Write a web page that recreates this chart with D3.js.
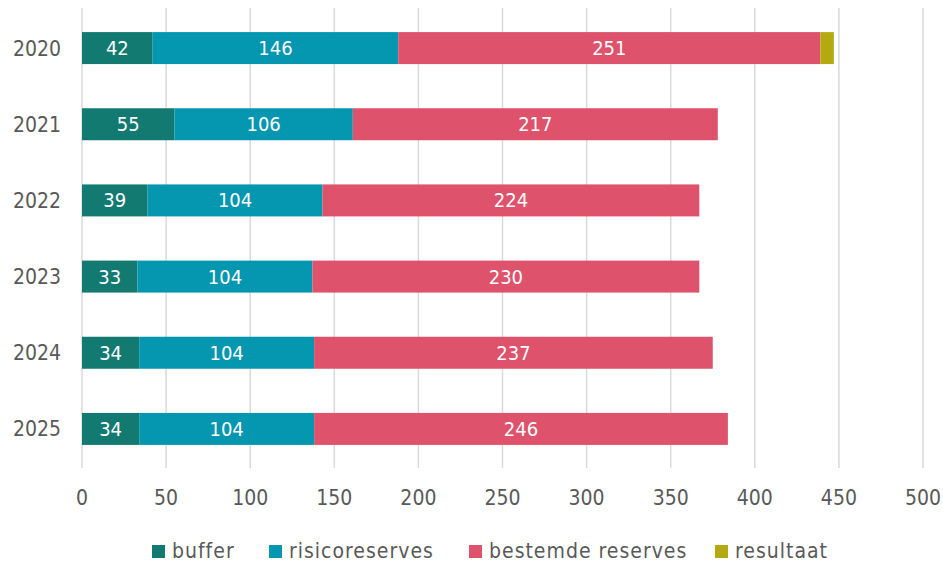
<!DOCTYPE html>
<html>
<head>
<meta charset="utf-8">
<script src="https://cdn.jsdelivr.net/npm/d3@7"></script>
<style>
  body { margin: 0; background: #fff; }
  svg text { font-family: "DejaVu Sans Condensed", "DejaVu Sans", sans-serif; font-stretch: condensed; }
</style>
</head>
<body>
<div id="chart"></div>
<script>
// data
var years = ["2020", "2021", "2022", "2023", "2024", "2025"];
var buffer = [42, 55, 39, 33, 34, 34];
var risicoreserves = [146, 106, 104, 104, 104, 104];
var bestemde = [251, 217, 224, 230, 237, 246];
var resultaat = [8, 0, 0, 0, 0, 0];
var seriesNames = ["buffer", "risicoreserves", "bestemde reserves", "resultaat"];
var seriesColors = ["#137a72", "#0596b0", "#de526b", "#b5a912"];
var xTicks = [0, 50, 100, 150, 200, 250, 300, 350, 400, 450, 500];

var width = 943, height = 565;

var svg = d3.select("#chart").append("svg")
    .attr("width", width)
    .attr("height", height);

var x = d3.scaleLinear().domain([0, 500]).range([82, 923]);
var y = d3.scaleBand().domain(years).range([10, 467]).paddingInner(0.58).paddingOuter(0.29);

// table for the stack
var table = years.map(function(yr, i) {
    return {year: yr, "buffer": buffer[i], "risicoreserves": risicoreserves[i],
            "bestemde reserves": bestemde[i], "resultaat": resultaat[i]};
});
var stacked = d3.stack().keys(seriesNames)(table);

// gridlines
svg.append("g").selectAll("line")
    .data(xTicks)
    .enter().append("line")
    .attr("x1", function(d){ return x(d); })
    .attr("x2", function(d){ return x(d); })
    .attr("y1", 8)
    .attr("y2", 468)
    .attr("stroke", "#d9d9d9")
    .attr("stroke-width", 1.5);

// x tick labels
svg.append("g").selectAll("text")
    .data(xTicks)
    .enter().append("text")
    .attr("x", function(d){ return x(d); })
    .attr("y", 505)
    .attr("text-anchor", "middle")
    .attr("font-size", "21px")
    .attr("fill", "#595959")
    .text(function(d){ return d; });

// y labels
svg.append("g").selectAll("text")
    .data(years)
    .enter().append("text")
    .attr("x", 61)
    .attr("y", function(d){ return y(d) + y.bandwidth()/2 + 7.5; })
    .attr("text-anchor", "end")
    .attr("font-size", "21px")
    .attr("fill", "#595959")
    .text(function(d){ return d; });

// bars
var layers = svg.append("g").selectAll("g")
    .data(stacked)
    .enter().append("g")
    .attr("fill", function(d, i){ return seriesColors[i]; });

layers.selectAll("rect")
    .data(function(d){ return d.filter(function(p){ return p[1] - p[0] > 0; }); })
    .enter().append("rect")
    .attr("x", function(d){ return x(d[0]); })
    .attr("y", function(d){ return y(d.data.year); })
    .attr("width", function(d){ return x(d[1]) - x(d[0]); })
    .attr("height", y.bandwidth());

// value labels (not on resultaat)
layers.filter(function(d, i){ return i < 3; })
    .selectAll("text")
    .data(function(d){ return d; })
    .enter().append("text")
    .attr("x", function(d){ return (x(d[0]) + x(d[1])) / 2; })
    .attr("y", function(d){ return y(d.data.year) + y.bandwidth()/2 + 7; })
    .attr("text-anchor", "middle")
    .attr("font-size", "20px")
    .attr("fill", "#ffffff")
    .text(function(d){ return d[1] - d[0]; });

// legend
var legendX = [152, 269, 469, 715];
var lg = svg.append("g").selectAll("g")
    .data(seriesNames)
    .enter().append("g")
    .attr("transform", function(d, i){ return "translate(" + legendX[i] + ",545)"; });

lg.append("rect")
    .attr("width", 13)
    .attr("height", 13)
    .attr("fill", function(d, i){ return seriesColors[i]; });

lg.append("text")
    .attr("x", 20)
    .attr("y", 13)
    .attr("font-size", "21px")
    .attr("letter-spacing", "1px")
    .attr("fill", "#595959")
    .text(function(d){ return d; });
</script>
</body>
</html>
